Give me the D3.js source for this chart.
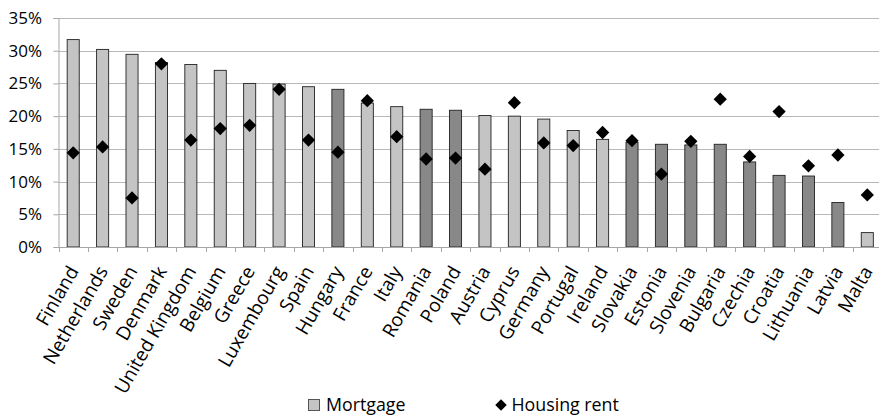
<!DOCTYPE html>
<html>
<head>
<meta charset="utf-8">
<script src="https://cdn.jsdelivr.net/npm/d3@7"></script>
<style>
  html, body { margin: 0; padding: 0; background: #fff; }
  svg { display: block; }
  text { font-family: "Open Sans", "Liberation Sans", sans-serif; fill: #000; }
</style>
</head>
<body>
<svg id="chart" width="879" height="416"></svg>
<script>
const countries = ["Finland","Netherlands","Sweden","Denmark","United Kingdom","Belgium","Greece","Luxembourg","Spain","Hungary","France","Italy","Romania","Poland","Austria","Cyprus","Germany","Portugal","Ireland","Slovakia","Estonia","Slovenia","Bulgaria","Czechia","Croatia","Lithuania","Latvia","Malta"];
const mortgage = [31.7,30.2,29.45,28.2,27.9,27.0,25.0,24.9,24.5,24.1,22.0,21.45,21.05,20.9,20.1,20.0,19.55,17.8,16.45,16.0,15.7,15.6,15.7,13.0,10.95,10.85,6.8,2.2];
const housingRent = [14.4,15.3,7.5,28.0,16.35,18.1,18.6,24.1,16.35,14.5,22.36,16.86,13.45,13.6,11.9,22.05,15.9,15.5,17.5,16.25,11.15,16.15,22.6,13.85,20.7,12.4,14.06,7.95];
const darkGroup = ["Hungary","Romania","Poland","Slovakia","Estonia","Slovenia","Bulgaria","Czechia","Croatia","Lithuania","Latvia"];
const yTicks = [0,5,10,15,20,25,30,35];
const seriesNames = ["Mortgage","Housing rent"];

const LIGHT = "#c4c4c4", DARK = "#888888";
const FS_Y = 17, FS_X = 19, FS_L = 17.8;
const svg = d3.select("#chart");
const pLeft = 58.5, pRight = 882, pTop = 18, pBottom = 247;

const x = d3.scaleBand().domain(countries).range([pLeft, pRight]).paddingInner(0.59).paddingOuter(0.295);
const xb = d3.scaleBand().domain(countries).range([pLeft, pRight]);
const y = d3.scaleLinear().domain([0, 35]).range([pBottom, pTop]);

// gridlines
svg.append("g").selectAll("line").data(yTicks).join("line")
  .attr("x1", pLeft).attr("x2", 879)
  .attr("y1", d => Math.round(y(d)) + 0.5).attr("y2", d => Math.round(y(d)) + 0.5)
  .attr("stroke", "#b8b8b8").attr("stroke-width", 1);

// y axis
const yAxis = d3.axisLeft(y).tickValues(yTicks).tickFormat(d => d + "%").tickSize(5).tickPadding(11.5);
const gy = svg.append("g").attr("transform", `translate(${pLeft},0)`).call(yAxis);
gy.select(".domain").attr("stroke", "#a6a6a6");
gy.selectAll(".tick line").attr("stroke", "#a6a6a6");
gy.selectAll("text").attr("font-size", FS_Y).attr("fill", "#000").style("font-family", "'Open Sans', sans-serif");

// bars
svg.append("g").selectAll("rect").data(countries).join("rect")
  .attr("x", (d) => x(d))
  .attr("width", x.bandwidth())
  .attr("y", (d, i) => y(mortgage[i]))
  .attr("height", (d, i) => pBottom - y(mortgage[i]))
  .attr("fill", d => darkGroup.includes(d) ? DARK : LIGHT)
  .attr("stroke", "#222").attr("stroke-width", 0.9);

// x axis
const xAxis = d3.axisBottom(xb).tickSize(0).tickFormat("");
const gx = svg.append("g").attr("transform", `translate(0,${pBottom})`).call(xAxis);
gx.select(".domain").attr("stroke", "#a6a6a6");
gx.selectAll(".tick").remove();
// boundary ticks
const bounds = countries.map(c => xb(c)).concat([pRight]);
svg.append("g").selectAll("line").data(bounds).join("line")
  .attr("x1", d => Math.round(d) + 0.5).attr("x2", d => Math.round(d) + 0.5)
  .attr("y1", pBottom).attr("y2", pBottom + 5)
  .attr("stroke", "#a6a6a6");

// x labels
svg.append("g").selectAll("text").data(countries).join("text")
  .attr("transform", d => `translate(${xb(d) + xb.bandwidth()/2 + 6},${pBottom + 24}) rotate(-60)`)
  .attr("text-anchor", "end")
  .attr("font-size", FS_X)
  .text(d => d);

// diamonds
svg.append("g").selectAll("path").data(countries).join("path")
  .attr("d", d3.symbol().type(d3.symbolSquare).size(88))
  .attr("transform", (d, i) => `translate(${xb(d) + xb.bandwidth()/2},${y(housingRent[i])}) rotate(45)`)
  .attr("fill", "#000");

// legend
const lg = svg.append("g");
lg.append("rect").attr("x", 308.5).attr("y", 399.5).attr("width", 11).attr("height", 11)
  .attr("fill", LIGHT).attr("stroke", "#555");
lg.append("text").attr("x", 326).attr("y", 411).attr("font-size", FS_L).text(seriesNames[0]);
lg.append("path").attr("d", d3.symbol().type(d3.symbolSquare).size(66))
  .attr("transform", "translate(501,405) rotate(45)").attr("fill", "#000");
lg.append("text").attr("x", 511.5).attr("y", 411).attr("font-size", FS_L).text(seriesNames[1]);
</script>
</body>
</html>
